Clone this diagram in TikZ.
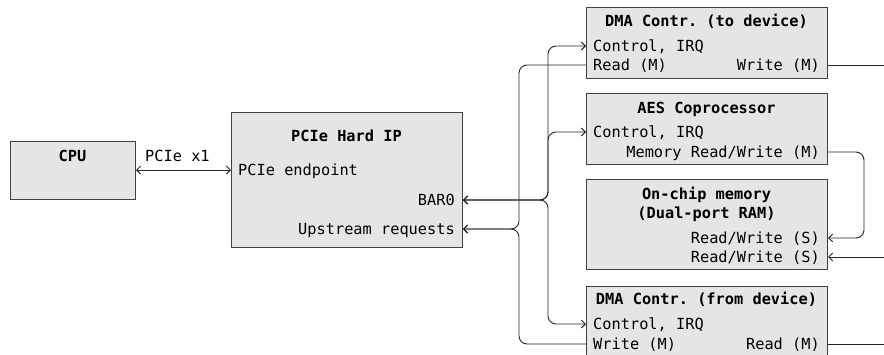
\documentclass[tikz,border=0pt]{standalone}
\usepackage{fontspec}
\setmonofont{DejaVu Sans Mono}
\usetikzlibrary{arrows.meta}
\begin{document}
\begin{tikzpicture}[x=1pt,y=-1pt,
  box/.style={draw=black!75, fill=black!10, line width=1pt, inner sep=0pt},
  txt/.style={font=\ttfamily\fontsize{15.3}{18}\selectfont, inner sep=0pt, text height=11pt, text depth=0pt},
  ttl/.style={txt, font=\ttfamily\bfseries\fontsize{15.3}{18}\selectfont},
  conn/.style={line width=0.9pt, draw=black!85, rounded corners=8pt},
  >={Straight Barb[length=4pt,width=8pt]}]
\useasboundingbox (0,0) rectangle (884,354);
\clip (0,0) rectangle (884,354);

% boxes
\node[box, anchor=north west, minimum width=125pt, minimum height=58pt] (cpu) at (10,141) {};
\node[box, anchor=north west, minimum width=231pt, minimum height=135pt] (pcie) at (231,112) {};
\node[box, anchor=north west, minimum width=241pt, minimum height=71pt] (dma1) at (586,7) {};
\node[box, anchor=north west, minimum width=241pt, minimum height=71pt] (aes) at (586,93) {};
\node[box, anchor=north west, minimum width=241pt, minimum height=90pt] (mem) at (586,179) {};
\node[box, anchor=north west, minimum width=241pt, minimum height=76pt] (dma2) at (586,286) {};

% texts
\node[ttl] (cput) at (72.5,156) {CPU};
\node[txt, anchor=west] (x1) at (145,156) {PCIe x1};
\node[ttl] (pciet) at (346.5,136) {PCIe Hard IP};
\node[txt, anchor=west] (ep) at (238,170) {PCIe endpoint};
\node[txt, anchor=east] (bar) at (455,200) {BAR0};
\node[txt, anchor=east] (ups) at (455,229) {Upstream requests};

\node[ttl] (d1t) at (706.5,21) {DMA Contr. (to device)};
\node[txt, anchor=west] (d1c) at (593,46) {Control, IRQ};
\node[txt, anchor=west] (d1r) at (593,65) {Read (M)};
\node[txt, anchor=east] (d1w) at (820,65) {Write (M)};

\node[ttl] (aest) at (706.5,108) {AES Coprocessor};
\node[txt, anchor=west] (aesc) at (593,132) {Control, IRQ};
\node[txt, anchor=east] (aesm) at (820,152) {Memory Read/Write (M)};

\node[ttl] (memt1) at (706.5,194) {On-chip memory};
\node[ttl] (memt2) at (706.5,213) {(Dual-port RAM)};
\node[txt, anchor=east] (mrw1) at (820,238) {Read/Write (S)};
\node[txt, anchor=east] (mrw2) at (820,257) {Read/Write (S)};

\node[ttl] (d2t) at (706.5,299) {DMA Contr. (from device)};
\node[txt, anchor=west] (d2c) at (593,324) {Control, IRQ};
\node[txt, anchor=west] (d2w) at (593,344) {Write (M)};
\node[txt, anchor=east] (d2r) at (820,344) {Read (M)};

% port coordinates
\coordinate (cpuP) at (cpu.east |- ep.west);
\coordinate (pciP) at (pcie.west |- ep.west);
\coordinate (barP) at (pcie.east |- bar.east);
\coordinate (upsP) at (pcie.east |- ups.east);
\coordinate (d1cP) at (dma1.west |- d1c.west);
\coordinate (d1rP) at (dma1.west |- d1r.west);
\coordinate (d1wP) at (dma1.east |- d1w.east);
\coordinate (aescP) at (aes.west |- aesc.west);
\coordinate (aesmP) at (aes.east |- aesm.east);
\coordinate (mrw1P) at (mem.east |- mrw1.east);
\coordinate (mrw2P) at (mem.east |- mrw2.east);
\coordinate (d2cP) at (dma2.west |- d2c.west);
\coordinate (d2wP) at (dma2.west |- d2w.west);
\coordinate (d2rP) at (dma2.east |- d2r.east);
\coordinate (busA) at (548,0);
\coordinate (busB) at (519,0);
\coordinate (loopX) at (864,0);
\coordinate (edgeX) at (884,0);

% connectors
\draw[conn,<->] (cpuP) -- (pciP);
\draw[conn,<->] (barP) -| (busA |- d1cP) -- (d1cP);
\draw[conn,<->] (barP) -| (busA |- aescP) -- (aescP);
\draw[conn,<->] (barP) -| (busA |- d2cP) -- (d2cP);
\draw[conn,<-] (upsP) -| (busB |- d1rP) -- (d1rP);
\draw[conn,<-] (upsP) -| (busB |- d2wP) -- (d2wP);
\draw[conn,->] (aesmP) -| (loopX |- mrw1P) -- (mrw1P);
\draw[conn,<-] (mrw2P) -- (edgeX |- mrw2P);
\draw[conn] (d1wP) -- (edgeX |- d1wP);
\draw[conn] (d2rP) -- (edgeX |- d2rP);
\end{tikzpicture}
\end{document}
